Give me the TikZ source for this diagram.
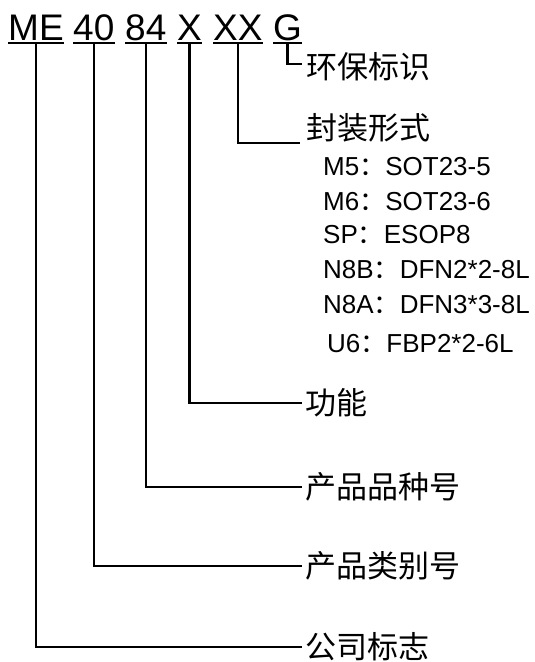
\documentclass[tikz,border=0pt]{standalone}
\usepackage{fontspec}
\setmainfont{Liberation Sans}
\newfontfamily\cjk{Noto Sans CJK SC}
\newcommand{\fwc}{{\cjk ：}}
\begin{document}
\begin{tikzpicture}[x=1pt,y=-1pt,
    code/.style={inner sep=0pt,anchor=base west,font=\fontsize{37}{37}\selectfont},
    lbl/.style={inner sep=0pt,anchor=west,font=\cjk\fontsize{31}{31}\selectfont},
    pkg/.style={inner sep=0pt,anchor=base west,font=\fontsize{26}{26}\selectfont},
    ln/.style={line width=2.3pt}]
  \useasboundingbox (0,0) rectangle (535,662);
  % part number
  \node[code] (me) at (8,40) {ME};
  \node[code] (c40) at (73,40) {40};
  \node[code] (c84) at (125,40) {84};
  \node[code] (fn) at (177,40) {X};
  \node[code] (pk) at (213,40) {XX};
  \node[code] (g) at (273,40) {G};
  \foreach \n in {me,c40,c84,fn,pk,g}
    \draw[ln] ([yshift=-3pt]\n.base west) -- ([yshift=-3pt]\n.base east);
  % labels
  \node[lbl] (lenv) at (306,67) {环保标识};
  \node[lbl] (lpk) at (306,128) {封装形式};
  \node[lbl] (lfn) at (305,403) {功能};
  \node[lbl] (l84) at (305,487) {产品品种号};
  \node[lbl] (l40) at (305,566) {产品类别号};
  \node[lbl] (lme) at (305,647) {公司标志};
  % package list
  \node[pkg] (p1) at (323,175) {M5\fwc SOT23-5};
  \node[pkg] (p2) at (323,210) {M6\fwc SOT23-6};
  \node[pkg] (p3) at (323,243) {SP\fwc ESOP8};
  \node[pkg] (p4) at (323,278) {N8B\fwc DFN2*2-8L};
  \node[pkg] (p5) at (323,313) {N8A\fwc DFN3*3-8L};
  \node[pkg] (p6) at (327,352) {U6\fwc FBP2*2-6L};
  % leaders
  \draw[ln] ([yshift=-3pt]g.base) |- ([xshift=-4pt,yshift=3pt]lenv.west);
  \draw[ln] ([yshift=-3pt]pk.base) |- ([xshift=-6pt,yshift=-15pt]lpk.west);
  \draw[ln] ([yshift=-3pt]fn.base) |- ([xshift=-3pt]lfn.west);
  \draw[ln] ([yshift=-3pt]c84.base) |- ([xshift=-3pt]l84.west);
  \draw[ln] ([yshift=-3pt]c40.base) |- ([xshift=-3pt]l40.west);
  \draw[ln] ([yshift=-3pt]me.base) |- ([xshift=-3pt]lme.west);
\end{tikzpicture}
\end{document}
